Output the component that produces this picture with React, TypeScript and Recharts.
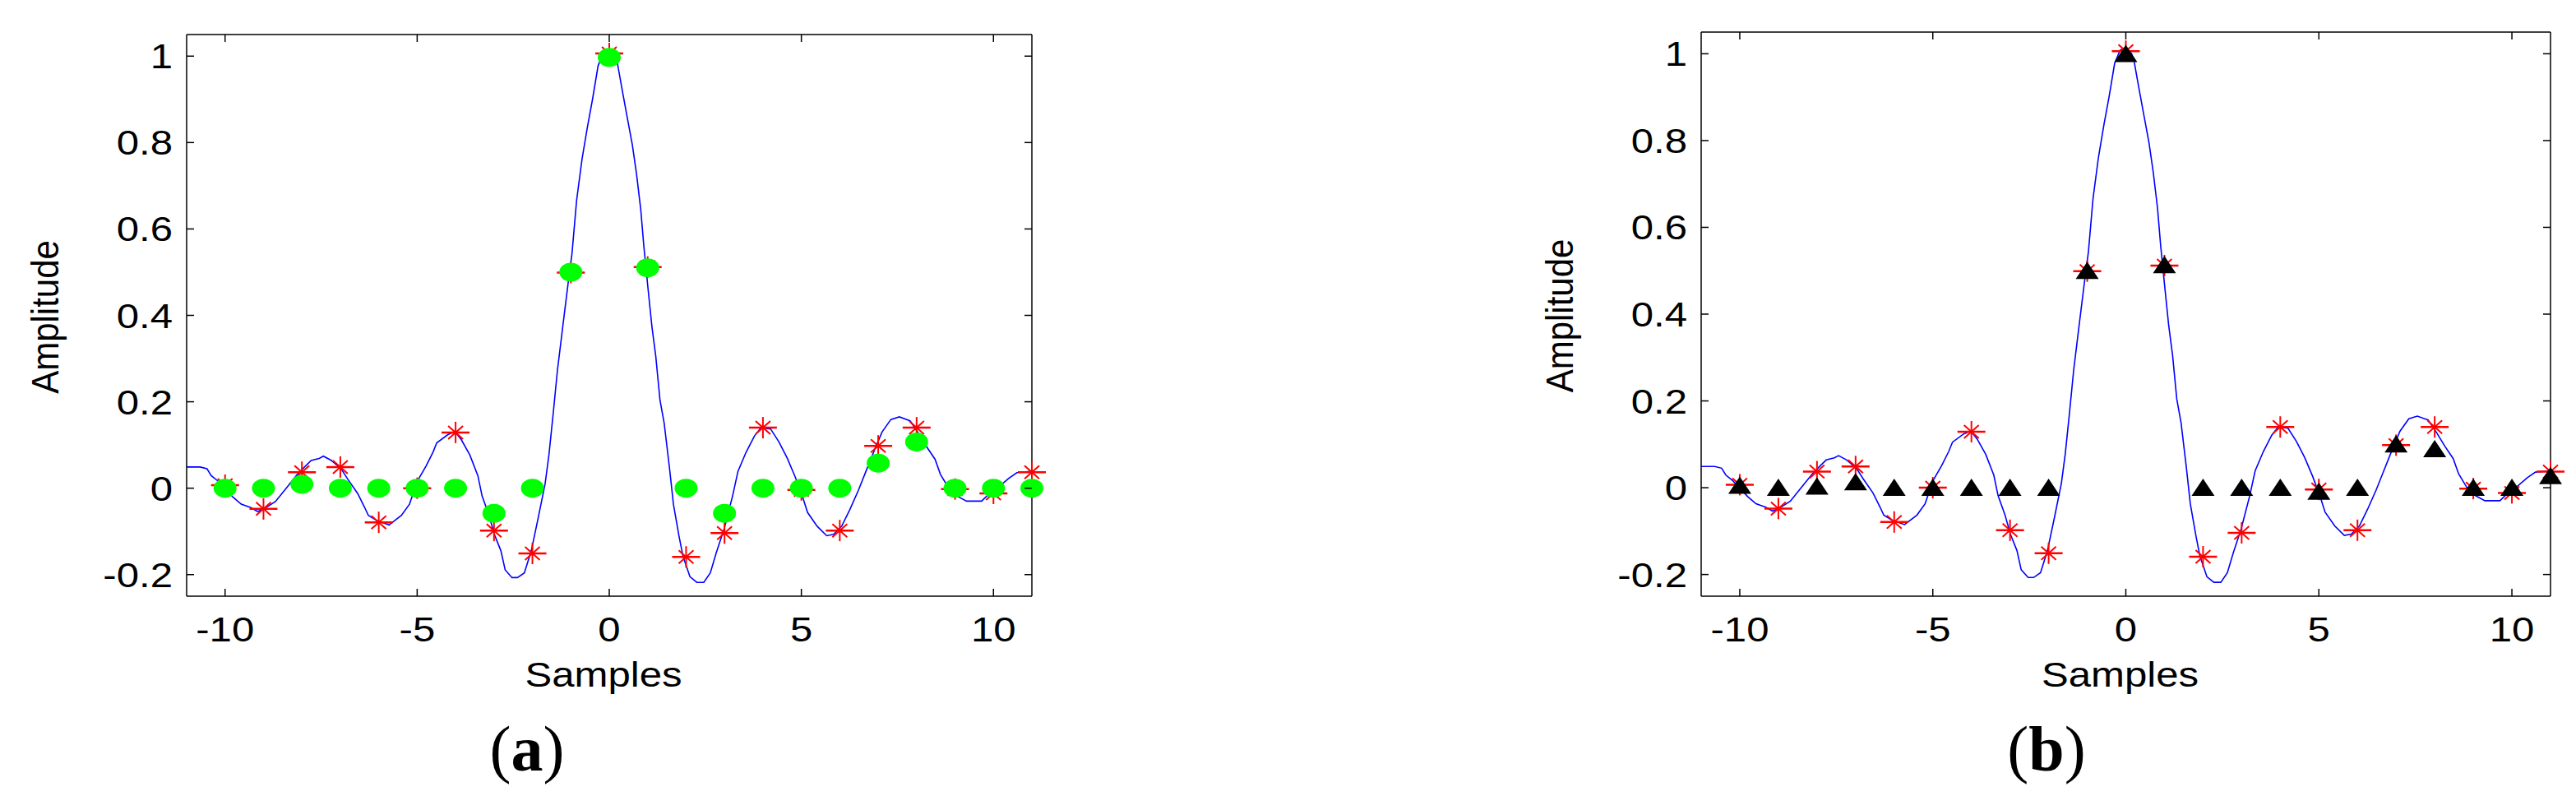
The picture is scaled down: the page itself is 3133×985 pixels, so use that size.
import { ComposedChart, Line, Scatter, XAxis, YAxis } from 'recharts';

// sample positions of the markers
const sampleX = [-10, -9, -8, -7, -6, -5, -4, -3, -2, -1, 0, 1, 2, 3, 4, 5, 6, 7, 8, 9, 10, 11];

// red stars (same in both panels)
const starY = [0.007, -0.048, 0.037, 0.049, -0.079, 0.0, 0.129, -0.098, -0.151, 0.499, 1.006, 0.512,
  -0.159, -0.104, 0.14, -0.004, -0.098, 0.098, 0.14, -0.002, -0.012, 0.037];

// green circles, panel (a)
const circleY = [0, 0, 0.009, 0, 0, 0, 0, -0.058, 0, 0.5, 0.997, 0.51,
  0, -0.058, 0, 0, 0, 0.058, 0.107, 0, 0, 0];

// black triangles, panel (b)
const triangleY = [0.005, 0, 0.003, 0.013, 0, 0, 0, 0, 0, 0.5, 1.0, 0.513,
  0, 0, 0, -0.009, 0, 0.1, 0.089, 0, 0, 0.027];

// blue continuous pulse
const curveX = [-11, -10.65, -10.47, -10.36, -10.19, -9.79, -9.58, -9.33, -9.15, -8.97, -8.69, -8.4, -8.12,
  -7.91, -7.76, -7.55, -7.44, -7.23, -6.98, -6.8, -6.55, -6.37, -6.27, -6.05, -5.73, -5.41, -5.2, -4.99,
  -4.77, -4.59, -4.49, -4.2, -4.02, -3.85, -3.63, -3.42, -3.31, -3.13, -2.99, -2.82, -2.71, -2.53, -2.39,
  -2.21, -2.03, -1.85, -1.67, -1.57, -1.46, -1.35, -1.21, -1.07, -0.97, -0.85, -0.71, -0.57, -0.43, -0.29,
  -0.15, 0, 0.15, 0.21, 0.32, 0.46, 0.6, 0.71, 0.82, 0.9, 1.0, 1.11, 1.21, 1.32, 1.43, 1.57, 1.67, 1.82,
  1.92, 2.1, 2.28, 2.46, 2.63, 2.78, 2.99, 3.21, 3.35, 3.56, 3.78, 3.95, 4.2, 4.41, 4.63, 4.84, 5.05, 5.16,
  5.41, 5.66, 5.84, 6.05, 6.26, 6.48, 6.69, 6.91, 7.1, 7.33, 7.55, 7.83, 8.05, 8.26, 8.48, 8.62, 8.83,
  9.05, 9.3, 9.69, 9.9, 10.11, 10.4, 10.61, 11];
const curveY = [0.049, 0.049, 0.045, 0.029, 0.017, -0.021, -0.037, -0.045, -0.054, -0.047, -0.031, 0.001,
  0.032, 0.051, 0.064, 0.069, 0.074, 0.064, 0.045, 0.02, -0.012, -0.044, -0.063, -0.075, -0.085, -0.063,
  -0.037, 0.017, 0.051, 0.083, 0.105, 0.124, 0.131, 0.112, 0.077, 0.029, -0.018, -0.063, -0.107, -0.145,
  -0.189, -0.207, -0.207, -0.196, -0.145, -0.069, 0.01, 0.077, 0.172, 0.272, 0.374, 0.475, 0.543, 0.666,
  0.761, 0.835, 0.903, 0.978, 1.008, 1.015, 1.0, 0.985, 0.93, 0.862, 0.795, 0.727, 0.645, 0.56, 0.47,
  0.374, 0.306, 0.204, 0.15, 0.045, -0.037, -0.113, -0.158, -0.205, -0.218, -0.218, -0.196, -0.151,
  -0.094, -0.018, 0.039, 0.083, 0.121, 0.14, 0.137, 0.108, 0.07, 0.026, -0.025, -0.056, -0.088, -0.11,
  -0.107, -0.088, -0.05, -0.006, 0.041, 0.09, 0.13, 0.159, 0.165, 0.156, 0.127, 0.096, 0.067, 0.032,
  0.001, -0.018, -0.03, -0.03, -0.012, 0.001, 0.023, 0.036, 0.039];

const xTicks = [-10, -5, 0, 5, 10];
const yTicks = [-0.2, 0, 0.2, 0.4, 0.6, 0.8, 1];

const curveData = curveX.map((x, i) => ({ x, y: curveY[i] }));
const starData = sampleX.map((x, i) => ({ x, y: starY[i] }));
const circleData = sampleX.map((x, i) => ({ x, y: circleY[i] }));
const triangleData = sampleX.map((x, i) => ({ x, y: triangleY[i] }));

const SANS = '"Liberation Sans", Arial, Helvetica, sans-serif';
const SERIF = '"Liberation Serif", "Times New Roman", serif';
const SX = 1.17; // the figure is a bit stretched sideways
const H = 985;

const BottomTick = ({ x, y, payload }: any) => (
  <g>
    <line x1={x} y1={y} x2={x} y2={y - 9} stroke="#000" strokeWidth={1.5} />
    <text transform={`translate(${x},${y + 55}) scale(${SX},1)`} textAnchor="middle"
      fontSize={42} fontFamily={SANS} fill="#000">{payload.value}</text>
  </g>
);

const LeftTick = ({ x, y, payload }: any) => (
  <g>
    <line x1={x} y1={y} x2={x + 9} y2={y} stroke="#000" strokeWidth={1.5} />
    <text transform={`translate(${x - 17},${y + 15}) scale(${SX},1)`} textAnchor="end"
      fontSize={42} fontFamily={SANS} fill="#000">{payload.value}</text>
  </g>
);

const TopTick = ({ x, y }: any) => (
  <line x1={x} y1={y} x2={x} y2={y + 9} stroke="#000" strokeWidth={1.5} />
);

const RightTick = ({ x, y }: any) => (
  <line x1={x} y1={y} x2={x - 9} y2={y} stroke="#000" strokeWidth={1.5} />
);

const StarMark = ({ cx, cy }: any) => (
  <g stroke="#ff0000" strokeWidth={2}>
    <line x1={cx - 17} y1={cy} x2={cx + 17} y2={cy} strokeWidth={2.5} />
    <line x1={cx} y1={cy - 13} x2={cx} y2={cy + 13} />
    <line x1={cx - 9} y1={cy - 8} x2={cx + 9} y2={cy + 8} />
    <line x1={cx - 9} y1={cy + 8} x2={cx + 9} y2={cy - 8} />
  </g>
);

const CircleMark = ({ cx, cy }: any) => (
  <ellipse cx={cx} cy={cy} rx={14} ry={11.5} fill="#00ff00" />
);

const TriangleMark = ({ cx, cy }: any) => (
  <polygon points={`${cx},${cy - 11} ${cx - 14},${cy + 10} ${cx + 14},${cy + 10}`} fill="#000" />
);

interface PanelProps {
  left: number;
  width: number;
  plotLeft: number;
  plotRight: number;
  plotTop: number;
  plotBottom: number;
  letter: string;
  letterX: number;
  markers: 'circle' | 'triangle';
}

function Panel(p: PanelProps) {
  const axisLine = { stroke: '#000', strokeWidth: 1.5 };
  const midX = (p.plotLeft + p.plotRight) / 2 - p.left;
  const midY = (p.plotTop + p.plotBottom) / 2;
  const ampX = p.plotLeft - p.left - 156;
  return (
    <div style={{ position: 'absolute', left: p.left, top: 0, width: p.width, height: H }}>
      <ComposedChart width={p.width} height={H} margin={{ top: 0, right: 0, bottom: 0, left: 0 }}>
        <XAxis xAxisId={0} dataKey="x" type="number" domain={[-11, 11]} ticks={xTicks}
          height={H - p.plotBottom} tickSize={0} tickMargin={0} tickLine={false}
          axisLine={axisLine} tick={BottomTick} interval={0} />
        <XAxis xAxisId="top" orientation="top" dataKey="x" type="number" domain={[-11, 11]} ticks={xTicks}
          height={p.plotTop} tickSize={0} tickMargin={0} tickLine={false} allowDataOverflow
          axisLine={axisLine} tick={TopTick} interval={0} />
        <YAxis yAxisId={0} dataKey="y" type="number" domain={[-0.25, 1.05]} ticks={yTicks}
          width={p.plotLeft - p.left} tickSize={0} tickMargin={0} tickLine={false}
          axisLine={axisLine} tick={LeftTick} interval={0} />
        <YAxis yAxisId="right" orientation="right" dataKey="y" type="number" domain={[-0.25, 1.05]}
          ticks={yTicks} width={p.left + p.width - p.plotRight} tickSize={0} tickMargin={0}
          tickLine={false} allowDataOverflow axisLine={axisLine} tick={RightTick} interval={0} />
        <Line data={curveData} dataKey="y" type="linear" stroke="#0000ff" strokeWidth={1.6}
          dot={false} activeDot={false} isAnimationActive={false} />
        <Scatter data={starData} dataKey="y" shape={StarMark} isAnimationActive={false} />
        {p.markers === 'circle' ? (
          <Scatter data={circleData} dataKey="y" shape={CircleMark} isAnimationActive={false} />
        ) : (
          <Scatter data={triangleData} dataKey="y" shape={TriangleMark} isAnimationActive={false} />
        )}
      </ComposedChart>
      <svg width={p.width} height={H} style={{ position: 'absolute', left: 0, top: 0, pointerEvents: 'none' }}>
        <text transform={`translate(${midX - 7},835) scale(${SX},1)`} textAnchor="middle"
          fontSize={42} fontFamily={SANS} fill="#000">Samples</text>
        <text transform={`translate(${ampX},${midY + 2}) rotate(-90) scale(1,1.1)`} textAnchor="middle"
          fontSize={42} fontFamily={SANS} fill="#000">Amplitude</text>
        <text x={p.letterX - p.left} y={937} textAnchor="middle" fontSize={78} fontFamily={SERIF} fill="#000">
          (<tspan fontWeight="bold">{p.letter}</tspan>)
        </text>
      </svg>
    </div>
  );
}

export default function App() {
  return (
    <div style={{ position: 'absolute', left: 0, top: 0, width: 3133, height: H, background: '#fff' }}>
      <Panel left={0} width={1300} plotLeft={227} plotRight={1255} plotTop={42} plotBottom={725}
        letter="a" letterX={641} markers="circle" />
      <Panel left={1800} width={1333} plotLeft={2069} plotRight={3102} plotTop={39} plotBottom={725}
        letter="b" letterX={2489} markers="triangle" />
    </div>
  );
}
